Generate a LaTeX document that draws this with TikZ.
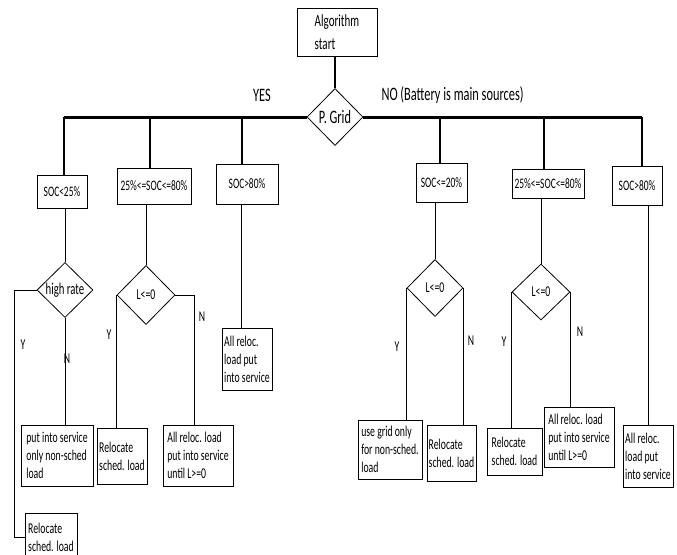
\documentclass[tikz,border=0pt]{standalone}
\usepackage{fontspec}
\setmainfont{Carlito}[FakeStretch=0.65]
\usetikzlibrary{shapes.geometric}
\newcommand\fsz[2]{\fontsize{#1}{#2}\selectfont}
\tikzset{
  box/.style={draw, line width=0.8pt, rectangle, inner sep=1pt, align=left, font=\fsz{15}{18}},
  socbox/.style={draw, line width=0.8pt, rectangle, inner sep=1pt, align=center, font=\fsz{14.5}{17}},
  dia/.style={draw, line width=0.8pt, diamond, inner sep=0pt, aspect=1},
  conn/.style={line width=0.8pt},
  bus/.style={line width=3pt},
  drop/.style={line width=2pt},
  lbl/.style={font=\fsz{19}{22}},
  yn/.style={font=\fsz{15}{18}}
}
\begin{document}
\begin{tikzpicture}[x=1pt,y=-1pt]
\useasboundingbox (0,0) rectangle (677,554);
% top
\node[box, minimum width=80pt, minimum height=48pt, font=\fsz{17}{23}] (start) at (337,32) {Algorithm\\start};
\node[dia, minimum width=56pt, minimum height=57pt, font=\fsz{19}{22}] (pg) at (335,117) {P. Grid};
\node[lbl] (yes) at (262,95) {YES};
\node[lbl, anchor=west] (no) at (378,95) {NO (Battery is main sources)};
% SOC boxes
\node[socbox, minimum width=50pt, minimum height=33pt] (s1) at (62,191.5) {SOC<25\%};
\node[socbox, minimum width=74pt, minimum height=36pt] (s2) at (154,186) {25\%<=SOC<=80\%};
\node[socbox, minimum width=62pt, minimum height=40pt] (s3) at (247,184) {SOC>80\%};
\node[socbox, minimum width=51pt, minimum height=39pt] (s4) at (441.5,182.5) {SOC<=20\%};
\node[socbox, minimum width=72pt, minimum height=29pt] (s5) at (548,183.5) {25\%<=SOC<=80\%};
\node[socbox, minimum width=50pt, minimum height=39pt] (s6) at (637,185.5) {SOC>80\%};
% diamonds
\node[dia, minimum width=56pt, minimum height=55pt, font=\fsz{16.5}{19}] (d1) at (65,290) {high rate};
\node[dia, minimum width=58pt, minimum height=59pt, font=\fsz{15}{18}] (d2) at (146,295) {L<=0};
\node[dia, minimum width=56pt, minimum height=57pt, font=\fsz{15}{18}] (d4) at (435,288) {L<=0};
\node[dia, minimum width=58pt, minimum height=56pt, font=\fsz{15}{18}] (d5) at (541,292) {L<=0};
% result boxes
\node[box, minimum width=52pt, minimum height=49pt] (r1) at (51,537.5) {Relocate\\sched. load};
\node[box, minimum width=72pt, minimum height=61pt] (p1) at (57,455.5) {put into service\\only non-sched\\load};
\node[box, minimum width=50pt, minimum height=56pt] (r2) at (122,456) {Relocate\\sched. load};
\node[box, minimum width=70pt, minimum height=61pt] (a2) at (198,455.5) {All reloc. load\\put into service\\until L>=0};
\node[box, minimum width=50pt, minimum height=62pt] (b3) at (247,359) {All reloc.\\load put\\into service};
\node[box, minimum width=64pt, minimum height=59pt] (u4) at (390,449.5) {use grid only\\for non-sched.\\load};
\node[box, minimum width=49pt, minimum height=56pt] (r4) at (451.5,453) {Relocate\\sched. load};
\node[box, minimum width=55pt, minimum height=47pt] (r5) at (514.5,451.5) {Relocate\\sched. load};
\node[box, minimum width=70pt, minimum height=60pt] (a5) at (579,437) {All reloc. load\\put into service\\until L>=0};
\node[box, minimum width=50pt, minimum height=62pt] (b6) at (648,456) {All reloc.\\load put\\into service};
% Y / N labels
\node[yn] (y1) at (23,345) {Y};
\node[yn] (n1) at (67,359) {N};
\node[yn] (y2) at (109,335) {Y};
\node[yn] (n2) at (202,317) {N};
\node[yn] (y4) at (397,347) {Y};
\node[yn] (n4) at (471,341) {N};
\node[yn] (y5) at (504,342) {Y};
\node[yn] (n5) at (580,332) {N};
% bus junctions
\coordinate (j1) at (64,117);
\coordinate (j2) at (150,117);
\coordinate (j3) at (242,117);
\coordinate (j4) at (440,117);
\coordinate (j5) at (544,117);
\coordinate (j6) at (642,117);
% connectors
\draw[drop] (start.south -| pg.north) -- (pg.north);
\draw[bus] (j1) -- (pg.west);
\draw[bus] (pg.east) -- (j6);
\draw[drop] (j1) -- (j1 |- s1.north);
\draw[drop] (j2) -- (j2 |- s2.north);
\draw[drop] (j3) -- (j3 |- s3.north);
\draw[drop] (j4) -- (j4 |- s4.north);
\draw[drop] (j5) -- (j5 |- s5.north);
\draw[drop] (j6) -- (j6 |- s6.north);
% left column 1
\draw[conn] (d1.north |- s1.south) -- (d1.north);
\draw[conn] (d1.west) -- ++(-22,0) |- (r1.west);
\draw[conn] (d1.south) -- (d1.south |- p1.north);
% left column 2
\draw[conn] (d2.north |- s2.south) -- (d2.north);
\draw[conn] (d2.west) -- (d2.west |- r2.north);
\draw[conn] (d2.east) -| ([xshift=-4pt]a2.north);
% left column 3
\draw[conn] ([xshift=-6pt]s3.south) -- ([xshift=-6pt]b3.north);
% right column 1
\draw[conn] (d4.north |- s4.south) -- (d4.north);
\draw[conn] (d4.west) -- (d4.west |- u4.north);
\draw[conn] (d4.east) -- (d4.east |- r4.north);
% right column 2
\draw[conn] (d5.north |- s5.south) -- (d5.north);
\draw[conn] (d5.west) -- (d5.west |- r5.north);
\draw[conn] (d5.east) -- (d5.east |- a5.north);
% right column 3
\draw[conn] (b6.north |- s6.south) -- (b6.north);
\end{tikzpicture}
\end{document}
